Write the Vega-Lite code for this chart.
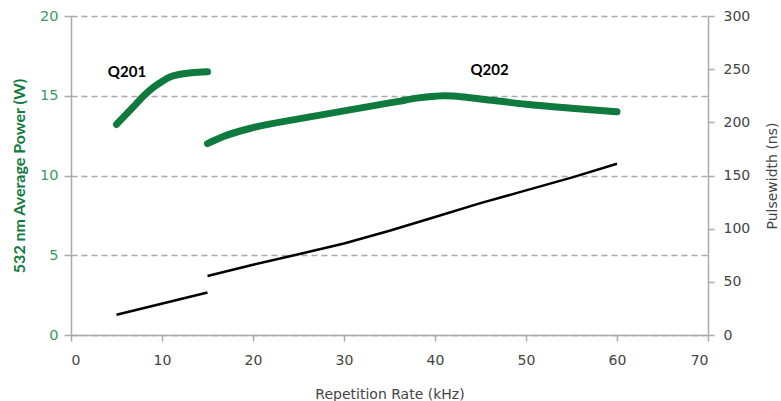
{
  "$schema": "https://vega.github.io/schema/vega-lite/v6.json",
  "width": 637,
  "height": 319,
  "autosize": "none",
  "padding": {"left": 71, "top": 16, "right": 73, "bottom": 66},
  "background": "white",
  "config": {"view": {"stroke": null}, "font": "DejaVu Sans"},
  "datasets": {
    "power": [
      {"rate": 5, "value": 13.2, "laser": "Q201"},
      {"rate": 6, "value": 13.8, "laser": "Q201"},
      {"rate": 7, "value": 14.4, "laser": "Q201"},
      {"rate": 8, "value": 15.0, "laser": "Q201"},
      {"rate": 9, "value": 15.5, "laser": "Q201"},
      {"rate": 10, "value": 15.9, "laser": "Q201"},
      {"rate": 11, "value": 16.2, "laser": "Q201"},
      {"rate": 12, "value": 16.35, "laser": "Q201"},
      {"rate": 13, "value": 16.42, "laser": "Q201"},
      {"rate": 14, "value": 16.47, "laser": "Q201"},
      {"rate": 15, "value": 16.5, "laser": "Q201"},
      {"rate": 15, "value": 12.0, "laser": "Q202"},
      {"rate": 17, "value": 12.5, "laser": "Q202"},
      {"rate": 20, "value": 13.0, "laser": "Q202"},
      {"rate": 25, "value": 13.55, "laser": "Q202"},
      {"rate": 30, "value": 14.05, "laser": "Q202"},
      {"rate": 33, "value": 14.35, "laser": "Q202"},
      {"rate": 36, "value": 14.65, "laser": "Q202"},
      {"rate": 38, "value": 14.85, "laser": "Q202"},
      {"rate": 40, "value": 14.97, "laser": "Q202"},
      {"rate": 41, "value": 15.0, "laser": "Q202"},
      {"rate": 42, "value": 14.98, "laser": "Q202"},
      {"rate": 45, "value": 14.8, "laser": "Q202"},
      {"rate": 50, "value": 14.47, "laser": "Q202"},
      {"rate": 55, "value": 14.22, "laser": "Q202"},
      {"rate": 60, "value": 14.0, "laser": "Q202"}
    ],
    "pulse": [
      {"rate": 5, "value": 19, "laser": "Q201"},
      {"rate": 15, "value": 40, "laser": "Q201"},
      {"rate": 15, "value": 55.5, "laser": "Q202"},
      {"rate": 20, "value": 66, "laser": "Q202"},
      {"rate": 25, "value": 76, "laser": "Q202"},
      {"rate": 30, "value": 86, "laser": "Q202"},
      {"rate": 35, "value": 98, "laser": "Q202"},
      {"rate": 40, "value": 111, "laser": "Q202"},
      {"rate": 45, "value": 124, "laser": "Q202"},
      {"rate": 50, "value": 136, "laser": "Q202"},
      {"rate": 55, "value": 148, "laser": "Q202"},
      {"rate": 60, "value": 161, "laser": "Q202"}
    ],
    "labels": [
      {"rate": 6.15, "value": 16.5, "text": "Q201"},
      {"rate": 46.0, "value": 16.6, "text": "Q202"}
    ]
  },
  "layer": [
    {
      "layer": [
        {
          "data": {"name": "power"},
          "mark": {"type": "line", "color": "#0f7a3e", "strokeWidth": 7, "strokeCap": "round", "interpolate": "monotone"},
          "encoding": {
            "x": {"field": "rate", "type": "quantitative", "scale": {"domain": [0, 70], "nice": false},
              "axis": {"title": "Repetition Rate (kHz)", "values": [0,10,20,30,40,50,60,70], "grid": false,
                "domainColor": "#aaaaaa", "domainWidth": 1.5, "tickColor": "#aaaaaa", "tickWidth": 1.5, "tickSize": 6,
                "labelColor": "#444444", "labelFontSize": 14, "labelPadding": 12, "titleColor": "#444444", "titleFontSize": 14, "titleFontWeight": "normal", "titlePadding": 20}},
            "y": {"field": "value", "type": "quantitative", "scale": {"domain": [0, 20], "nice": false},
              "axis": {"title": "532 nm Average Power (W)", "values": [0,5,10,15,20], "grid": true, "gridDash": [6,4], "gridColor": "#aaaaaa", "gridWidth": 1.5,
                "domainColor": "#aaaaaa", "domainWidth": 1.5, "tickColor": "#aaaaaa", "tickWidth": 1.5, "tickSize": 7,
                "labelColor": "#3a9a62", "labelFontSize": 14.5, "labelPadding": 6,
                "titleColor": "#0f7a3e", "titleFontSize": 16, "titleFont": "Lato", "titleFontWeight": "bold", "titlePadding": 12}},
            "detail": {"field": "laser"}
          }
        },
        {
          "data": {"name": "labels"},
          "mark": {"type": "text", "font": "Lato", "fontWeight": "bold", "fontSize": 15, "color": "#000000"},
          "encoding": {
            "x": {"field": "rate", "type": "quantitative"},
            "y": {"field": "value", "type": "quantitative"},
            "text": {"field": "text"}
          }
        }
      ]
    },
    {
      "data": {"name": "pulse"},
      "mark": {"type": "line", "color": "#000000", "strokeWidth": 2.5},
      "encoding": {
        "x": {"field": "rate", "type": "quantitative"},
        "y": {"field": "value", "type": "quantitative", "scale": {"domain": [0, 300], "nice": false},
          "axis": {"orient": "right", "title": "Pulsewidth (ns)", "values": [0,50,100,150,200,250,300], "grid": false,
            "domainColor": "#aaaaaa", "domainWidth": 1.5, "tickColor": "#aaaaaa", "tickWidth": 1.5, "tickSize": 6,
            "labelColor": "#444444", "labelFontSize": 14, "labelPadding": 9,
            "titleColor": "#444444", "titleFontSize": 14, "titleFontWeight": "normal", "titleAngle": 270, "titlePadding": 30}},
        "detail": {"field": "laser"}
      }
    }
  ],
  "resolve": {"scale": {"y": "independent"}}
}
